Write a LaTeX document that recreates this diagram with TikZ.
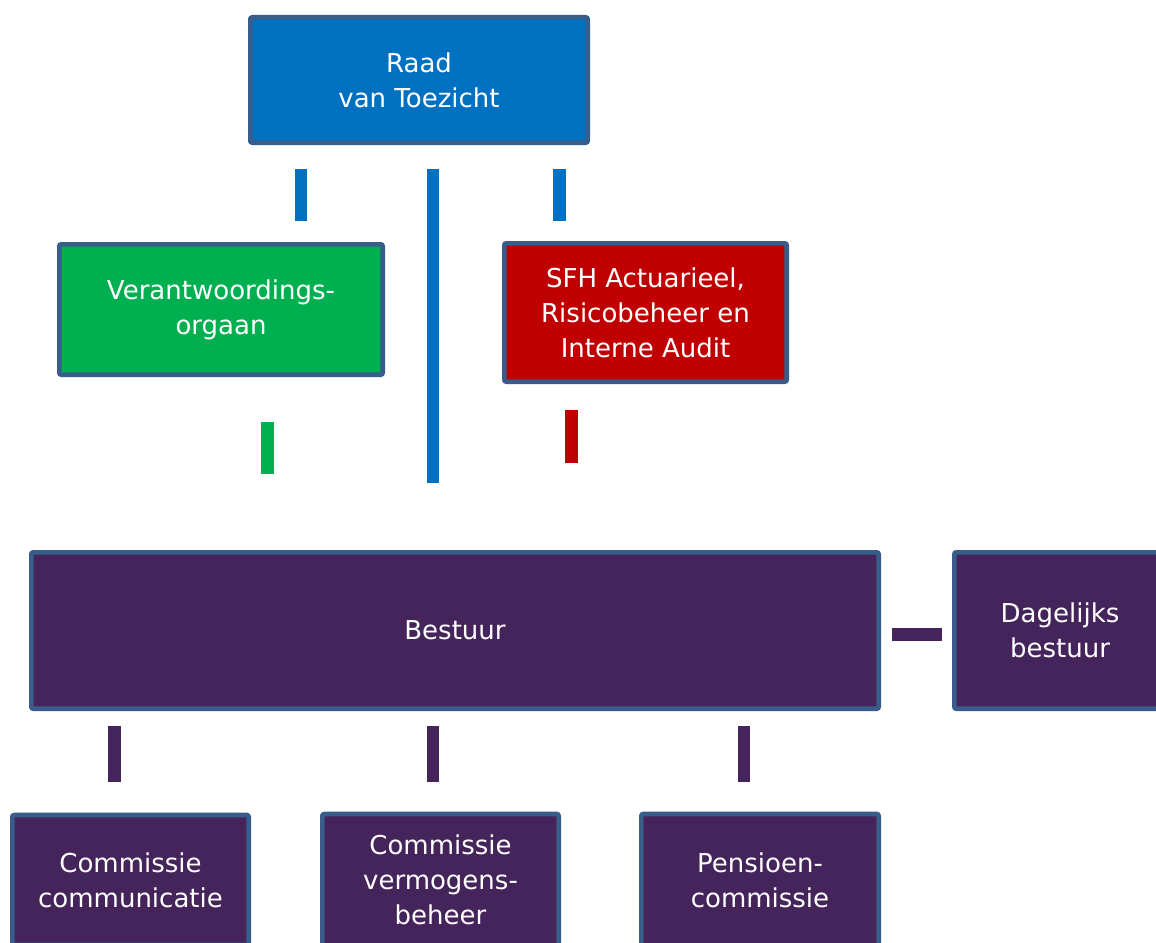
\documentclass[tikz,border=0pt]{standalone}
\usepackage{fontspec}
\setmainfont{DejaVu Sans}
\definecolor{bordc}{RGB}{56,93,138}
\definecolor{bluef}{RGB}{0,112,192}
\definecolor{greenf}{RGB}{0,176,80}
\definecolor{redf}{RGB}{192,0,0}
\definecolor{purplef}{RGB}{68,36,90}
\tikzset{
  orgbox/.style={draw=bordc, line width=4.6pt, rounded corners=2pt, inner sep=0pt,
    text=white, align=center, font=\fontsize{26}{35}\selectfont},
  bar/.style={line width=12.5pt}
}
\begin{document}
\begin{tikzpicture}[x=1pt,y=-1pt]
\clip (0,0) rectangle (1156,942);
\fill[white] (0,0) rectangle (1156,942);
% boxes
\node[orgbox, fill=bluef, minimum width=337.4pt, minimum height=125.4pt] (raad) at (419,80) {Raad\\van Toezicht};
\node[orgbox, fill=greenf, minimum width=323.4pt, minimum height=130.4pt] (vo) at (221,309.5) {Verantwoordings-\\orgaan};
\node[orgbox, fill=redf, minimum width=282.4pt, minimum height=138.4pt] (sfh) at (645.5,312.5) {SFH Actuarieel,\\Risicobeheer en\\Interne Audit};
\node[orgbox, fill=purplef, minimum width=847.4pt, minimum height=156.4pt] (bestuur) at (455,630.5) {Bestuur};
\node[orgbox, fill=purplef, minimum width=211.4pt, minimum height=156.4pt] (db) at (1060,630.5) {Dagelijks\\bestuur};
\node[orgbox, fill=purplef, minimum width=236.4pt, minimum height=130pt] (cc) at (130.5,880) {Commissie\\communicatie};
\node[orgbox, fill=purplef, minimum width=236.4pt, minimum height=132pt] (cv) at (440.5,880) {Commissie\\vermogens-\\beheer};
\node[orgbox, fill=purplef, minimum width=237.4pt, minimum height=132pt] (pc) at (760,880) {Pensioen-\\commissie};
% bar end points
\coordinate (b1t) at (301,169); \coordinate (b1b) at (301,221);
\coordinate (b2t) at (433,169); \coordinate (b2b) at (433,483);
\coordinate (b3t) at (559.5,169); \coordinate (b3b) at (559.5,221);
\coordinate (g1t) at (267.5,422); \coordinate (g1b) at (267.5,474);
\coordinate (r1t) at (571.5,410); \coordinate (r1b) at (571.5,463);
\coordinate (h1l) at (892,634); \coordinate (h1r) at (942,634);
\coordinate (p1t) at (114.5,726); \coordinate (p1b) at (114.5,782);
\coordinate (p2t) at (433,726); \coordinate (p2b) at (433,782);
\coordinate (p3t) at (744,726); \coordinate (p3b) at (744,782);
% bars
\draw[bar, bluef] (b1t) -- (b1b);
\draw[bar, bluef] (b2t) -- (b2b);
\draw[bar, bluef] (b3t) -- (b3b);
\draw[bar, greenf] (g1t) -- (g1b);
\draw[bar, redf] (r1t) -- (r1b);
\draw[bar, purplef, line width=13pt] (h1l) -- (h1r);
\draw[bar, purplef] (p1t) -- (p1b);
\draw[bar, purplef] (p2t) -- (p2b);
\draw[bar, purplef] (p3t) -- (p3b);
\end{tikzpicture}
\end{document}
